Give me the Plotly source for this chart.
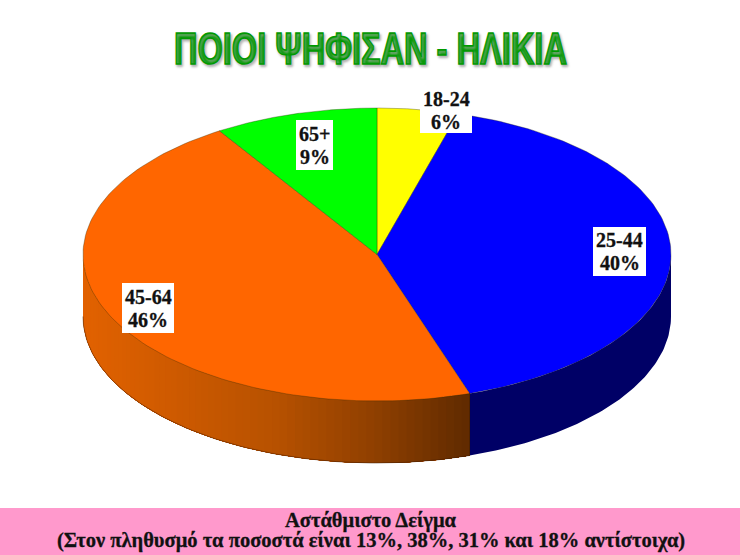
import numpy as np
import plotly.graph_objects as go

# Data
CATEGORIES = ["18-24", "25-44", "45-64", "65+"]
LABEL_PCT = ["6%", "40%", "46%", "9%"]
VALUES = [4.45, 40.45, 46.1, 9.0]      # slice extents as drawn
TOP_COLORS = ["#FFFF00", "#0000FF", "#FF6600", "#00FF00"]
TITLE = "ΠΟΙΟΙ ΨΗΦΙΣΑΝ - ΗΛΙΚΙΑ"
FOOT1 = "Αστάθμιστο Δείγμα"
FOOT2 = "(Στον πληθυσμό τα ποσοστά είναι 13%, 38%, 31% και 18% αντίστοιχα)"

# Layout (pixels)
W, H = 740, 555
CX, CY, RX, RY, DEPTH = 377, 254.5, 294, 146.5, 62
BOXES = [(420, 472, 88, 133), (593, 646, 227, 276), (122, 174, 283, 333), (296, 333, 120, 170)]

def px(t):
    return CX + RX * np.sin(t)

def py(t):
    return CY - RY * np.cos(t)

fig = go.Figure()
fracs = np.array(VALUES) / sum(VALUES) * 2 * np.pi
ends = np.cumsum(fracs)
starts = ends - fracs

def fill(xs, ys, color, line=None, w=0):
    fig.add_trace(go.Scatter(x=xs, y=ys, mode="lines", fill="toself", fillcolor=color,
                             line=dict(color=line or color, width=w), hoverinfo="skip",
                             showlegend=False))

def side_color(x0):
    stops = [83, 270, 370, 470]
    r = np.interp(x0, stops, [226, 184, 144, 94])
    g = np.interp(x0, stops, [98, 82, 64, 42])
    return "rgb(%d,%d,0)" % (r, g)

# Side wall
blue_end = ends[1]
tb = np.linspace(np.pi / 2, blue_end, 80)
fill(np.r_[px(tb), px(tb[::-1])], np.r_[py(tb), py(tb[::-1]) + DEPTH], "#000066")
edges = np.linspace(3 * np.pi / 2, blue_end, 70)
for a in edges[:-1]:
    t = np.linspace(a, blue_end, 80)
    fill(np.r_[px(t), px(t[::-1])], np.r_[py(t), py(t[::-1]) + DEPTH], side_color(px(a)))

# Bottom outline of the orange rim
t = np.linspace(blue_end, 3 * np.pi / 2, 100)
fig.add_trace(go.Scatter(x=px(t), y=py(t) + DEPTH, mode="lines",
                         line=dict(color="rgba(60,25,0,0.6)", width=0.8),
                         hoverinfo="skip", showlegend=False))

# Top face
for s, e, col in zip(starts, ends, TOP_COLORS):
    t = np.linspace(s, e, 120)
    fill(np.r_[CX, px(t), CX], np.r_[CY, py(t), CY], col, line="rgba(40,40,0,0.55)", w=0.6)

# Vertical seam at the blue/orange join
fig.add_trace(go.Scatter(x=[px(blue_end)] * 2, y=[py(blue_end), py(blue_end) + DEPTH], mode="lines",
                         line=dict(color="rgba(40,20,0,0.6)", width=0.6),
                         hoverinfo="skip", showlegend=False))

shapes = [dict(type="rect", xref="x", yref="y", x0=0, x1=W, y0=508, y1=H,
               fillcolor="#FF99CC", line_width=0, layer="below")]
annots = []
label_font = dict(family="Liberation Serif", size=20, color="#111111", weight="bold")
for (x0, x1, y0, y1), name, pct in zip(BOXES, CATEGORIES, LABEL_PCT):
    shapes.append(dict(type="rect", xref="x", yref="y", x0=x0, x1=x1, y0=y0, y1=y1,
                       fillcolor="white", line_width=0, layer="above"))
    xc = (x0 + x1) / 2
    yc = (y0 + y1) / 2
    annots.append(dict(x=xc, y=yc - 11.5, text=name, showarrow=False, font=label_font,
                       xref="x", yref="y", xanchor="center", yanchor="middle"))
    annots.append(dict(x=xc, y=yc + 11.5, text=pct, showarrow=False, font=label_font,
                       xref="x", yref="y", xanchor="center", yanchor="middle"))

annots.append(dict(x=370.5, y=48, text=TITLE, showarrow=False, xref="x", yref="y",
                   xanchor="center", yanchor="middle",
                   font=dict(family="Liberation Sans", size=45, color="#009900", weight="bold",
                             shadow="2px 2px 3px #aaaaaa")))
foot_font = dict(family="Liberation Serif", size=20.5, color="#111111", weight="bold")
annots.append(dict(x=370.5, y=520.5, text=FOOT1, showarrow=False, font=foot_font, xref="x", yref="y",
                   xanchor="center", yanchor="middle"))
annots.append(dict(x=370.5, y=540.5, text=FOOT2, showarrow=False, font=foot_font, xref="x", yref="y",
                   xanchor="center", yanchor="middle"))

fig.update_layout(width=W, height=H, margin=dict(l=0, r=0, t=0, b=0), autosize=False,
                  paper_bgcolor="white", plot_bgcolor="white", showlegend=False,
                  shapes=shapes, annotations=annots,
                  xaxis=dict(range=[0, W], visible=False, fixedrange=True),
                  yaxis=dict(range=[H, 0], visible=False, fixedrange=True))

POST = """
document.documentElement.style.margin='0';
document.body.style.margin='0';
document.body.style.overflow='hidden';
var gd=document.querySelector('.plotly-graph-div');
gd.style.position='absolute';gd.style.left='0';gd.style.top='0';
document.querySelectorAll('.annotation-text').forEach(function(t){
  if(t.textContent.indexOf('ΠΟΙΟΙ')===0){
    t.setAttribute('textLength',393);
    t.setAttribute('lengthAdjust','spacingAndGlyphs');
    t.style.stroke='#009900';
    t.style.strokeWidth='1.6px';
  } else {
    t.style.stroke='#111111';
    t.style.strokeWidth='0.3px';
  }
});
"""
fig.write_html("out.html", config=dict(displayModeBar=False), post_script=POST)
